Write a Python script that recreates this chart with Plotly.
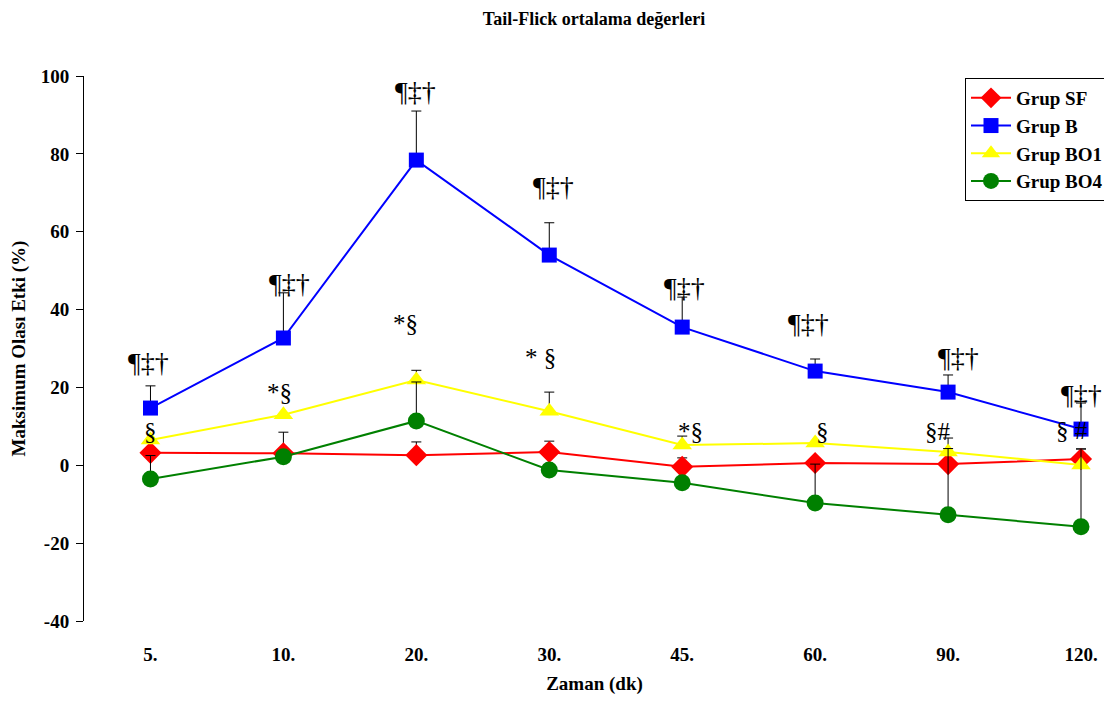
import plotly.graph_objects as go

categories = ["5.", "10.", "20.", "30.", "45.", "60.", "90.", "120."]

sf_values = [3.2, 3.1, 2.6, 3.4, -0.4, 0.6, 0.3, 1.6]
sf_err = [0, 5.4, 3.4, 2.8, 2.3, 0, 0, 2.6]

b_values = [14.7, 32.7, 78.4, 54.0, 35.5, 24.2, 18.8, 9.3]
b_err = [5.7, 11.6, 12.6, 8.3, 7.7, 3.1, 4.4, 6.7]

bo1_values = [6.5, 13.0, 21.9, 13.9, 5.2, 5.7, 3.4, 0.1]
bo1_err = [0, 0, 2.5, 4.9, 2.3, 0, 3.6, 0]

bo4_values = [-3.5, 2.2, 11.4, -1.2, -4.5, -9.7, -12.7, -15.8]
bo4_err = [6.0, 0, 10.0, 0, 0, 10.0, 17.0, 20.0]

y_ticks = [-40, -20, 0, 20, 40, 60, 80, 100]
y_tick_labels = ["-40", "-20", "0", "20", "40", "60", "80", "100"]

# significance labels above Grup B and above the lower groups
sig_labels_b = ["¶‡†"] * 8
sig_y_b = [26.5, 46.6, 96.1, 71.7, 45.7, 36.5, 27.8, 18.3]
sig_shift_b = [-2, 6, -1, 4, 2, -7, 10, 0]

sig_labels_low = ["§", "*§", "*§", "* §", "*§", "§", "§#", "§ #"]
sig_y_low = [8.6, 18.8, 36.5, 27.6, 8.8, 8.6, 8.8, 9.0]
sig_shift_low = [0, -4, -11, -9, 8, 7, -10, -9]

FONT = "Liberation Serif, Times New Roman, serif"
OFF = 8  # page body margin
W, H = 1112 - OFF, 701 - OFF
L, R, T, B = 84 - OFF, 1105 - OFF, 76 - OFF, 621 - OFF

fig = go.Figure()

def add(name, vals, errs, color, symbol, size):
    fig.add_trace(go.Scatter(
        x=categories, y=vals, name="<b>" + name + "</b>", mode="lines+markers",
        legendgroup=name,
        line=dict(color=color, width=2),
        marker=dict(symbol=symbol, size=size, color=color),
        error_y=dict(type="data", symmetric=False, array=errs,
                     arrayminus=[0] * len(errs), color="black",
                     thickness=1, width=5),
    ))

add("Grup SF", sf_values, sf_err, "#FF0000", "diamond", 17)
add("Grup B", b_values, b_err, "#0000FF", "square", 15)
add("Grup BO1", bo1_values, bo1_err, "#FFFF00", "triangle-up", 17)
add("Grup BO4", bo4_values, bo4_err, "#008000", "circle", 17)

for i in range(len(categories)):
    fig.add_annotation(x=i, y=sig_y_b[i], text=sig_labels_b[i],
                       showarrow=False, xshift=sig_shift_b[i],
                       font=dict(family=FONT, size=28, color="black"))
    fig.add_annotation(x=i, y=sig_y_low[i], text=sig_labels_low[i],
                       showarrow=False, xshift=sig_shift_low[i],
                       font=dict(family=FONT, size=25, color="black"))

fig.update_layout(
    width=W, height=H,
    paper_bgcolor="white", plot_bgcolor="white",
    margin=dict(l=L, r=W - R, t=T, b=H - B, autoexpand=False),
    font=dict(family=FONT, color="black"),
    title=dict(text="<b>Tail-Flick ortalama değerleri</b>", x=(594 - OFF) / W, xanchor="center",
               y=1, yanchor="top", pad=dict(t=4),
               font=dict(family=FONT, size=18)),
    legend=dict(x=(965 - 84) / (1105 - 84), y=(621 - 78) / (621 - 76), xanchor="left", yanchor="top",
                bgcolor="white", bordercolor="black", borderwidth=1,
                font=dict(family=FONT, size=19, color="black"),
                traceorder="grouped", tracegroupgap=0, itemwidth=40),
    showlegend=True,
)

fig.update_xaxes(
    type="category", range=[-0.5, 7 + (1105 - 1081) / 133], automargin=False,
    showline=False, showgrid=False, zeroline=False, ticks="",
    tickfont=dict(family=FONT, size=19, color="black"),
    tickprefix="<b>", ticksuffix="</b>",
    ticklabelstandoff=20,
    title=dict(text="<b>Zaman (dk)</b>", font=dict(family=FONT, size=19), standoff=12),
)
fig.update_yaxes(
    range=[-40, 100], automargin=False,
    tickvals=y_ticks, ticktext=["<b>" + t + "</b>" for t in y_tick_labels],
    showline=True, linecolor="black", linewidth=1,
    showgrid=False, zeroline=False, ticks="outside", ticklen=7, tickcolor="black",
    tickfont=dict(family=FONT, size=19, color="black"),
    ticklabelstandoff=3,
    title=dict(text="<b>Maksimum Olası Etki (%)</b>", font=dict(family=FONT, size=19), standoff=10),
)

fig.write_html("out.html")
